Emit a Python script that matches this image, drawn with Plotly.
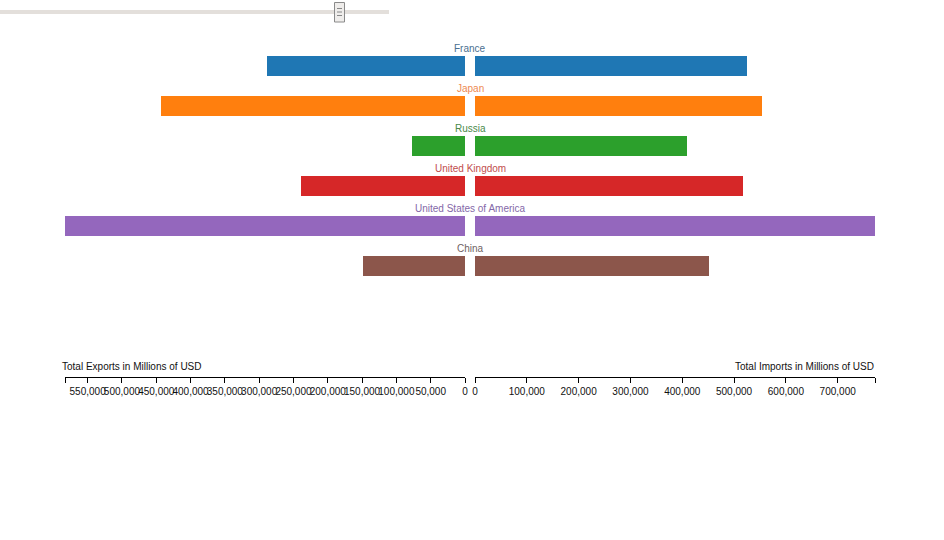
import plotly.graph_objects as go

countries = ["France", "Japan", "Russia", "United Kingdom", "United States of America", "China"]
exports = [288600, 443000, 77300, 239000, 583000, 148700]
imports = [525000, 554000, 409000, 517000, 772000, 452000]
bar_colors = ["#1f77b4", "#ff7f0e", "#2ca02c", "#d62728", "#9467bd", "#8c564b"]
label_colors = ["#4a6f90", "#ee8a52", "#4a8a4a", "#bf4d4d", "#8468a8", "#6f6262"]
export_ticks = [0, 50000, 100000, 150000, 200000, 250000, 300000, 350000, 400000, 450000, 500000, 550000]
import_ticks = [0, 100000, 200000, 300000, 400000, 500000, 600000, 700000]

W, H = 944, 540
TOP, BOTTOM = 36, 377
export_max = max(exports)
import_max = max(imports)

def py(pix):
    return (BOTTOM - pix) / (BOTTOM - TOP)

def px(pix):
    return pix / W

def fmt(v):
    return f"{v:,}"

fig = go.Figure()
fig.add_trace(go.Bar(
    y=countries, x=exports, orientation="h", xaxis="x", yaxis="y",
    marker=dict(color=bar_colors, line=dict(width=0)), width=0.5,
    showlegend=False, hoverinfo="x+y",
))
fig.add_trace(go.Bar(
    y=countries, x=imports, orientation="h", xaxis="x2", yaxis="y",
    marker=dict(color=bar_colors, line=dict(width=0)), width=0.5,
    showlegend=False, hoverinfo="x+y",
))

axis_common = dict(
    showgrid=False, zeroline=False, showline=True, linecolor="#000", linewidth=1,
    ticks="outside", ticklen=5, tickcolor="#000", tickwidth=1, tickangle=0,
    tickfont=dict(family="Arial, Liberation Sans", size=10, color="#111"),
    fixedrange=True, automargin=False, anchor="y", side="bottom",
)

fig.update_layout(
    width=W, height=H,
    margin=dict(l=0, r=0, t=TOP, b=H - BOTTOM, pad=0),
    paper_bgcolor="white", plot_bgcolor="white",
    bargap=0,
    xaxis=dict(
        domain=[px(65), px(465)], range=[export_max, 0],
        tickvals=export_ticks + [export_max],
        ticktext=[fmt(v) for v in export_ticks] + [""],
        **axis_common,
    ),
    xaxis2=dict(
        domain=[px(475), px(875)], range=[0, import_max],
        tickvals=import_ticks + [import_max],
        ticktext=[fmt(v) for v in import_ticks] + [""],
        **axis_common,
    ),
    yaxis=dict(
        type="category", categoryorder="array", categoryarray=countries,
        range=[7.775, -0.75], showticklabels=False, showgrid=False,
        zeroline=False, showline=False, ticks="", fixedrange=True,
    ),
    font=dict(family="Arial, Liberation Sans", size=10, color="#111"),
)

annotations = []
for c, col in zip(countries, label_colors):
    annotations.append(dict(
        x=px(470), xref="paper", y=c, yref="y", yshift=18,
        text=c, showarrow=False, xanchor="center", yanchor="middle",
        font=dict(family="Arial, Liberation Sans", size=10, color=col),
    ))
annotations.append(dict(
    x=px(60), xref="paper", y=py(366), yref="paper",
    text="Total Exports in Millions of USD", showarrow=False,
    xanchor="left", yanchor="middle",
    font=dict(family="Arial, Liberation Sans", size=10, color="#111"),
))
annotations.append(dict(
    x=px(876), xref="paper", y=py(366), yref="paper",
    text="Total Imports in Millions of USD", showarrow=False,
    xanchor="right", yanchor="middle",
    font=dict(family="Arial, Liberation Sans", size=10, color="#111"),
))
fig.update_layout(annotations=annotations)

# year slider decoration
shapes = [
    dict(type="rect", xref="paper", yref="paper", x0=px(0), x1=px(389), y0=py(14), y1=py(10),
         fillcolor="#e3dfdb", line=dict(width=0), layer="above"),
    dict(type="rect", xref="paper", yref="paper", x0=px(334.5), x1=px(344.5), y0=py(22), y1=py(2.5),
         fillcolor="#efedeb", line=dict(color="#8a8a8a", width=1), layer="above"),
]
for yy in (8.5, 12, 15.5):
    shapes.append(dict(type="line", xref="paper", yref="paper", x0=px(337), x1=px(342),
                       y0=py(yy), y1=py(yy), line=dict(color="#888", width=1), layer="above"))
fig.update_layout(shapes=shapes)

fig.write_html("out.html")
